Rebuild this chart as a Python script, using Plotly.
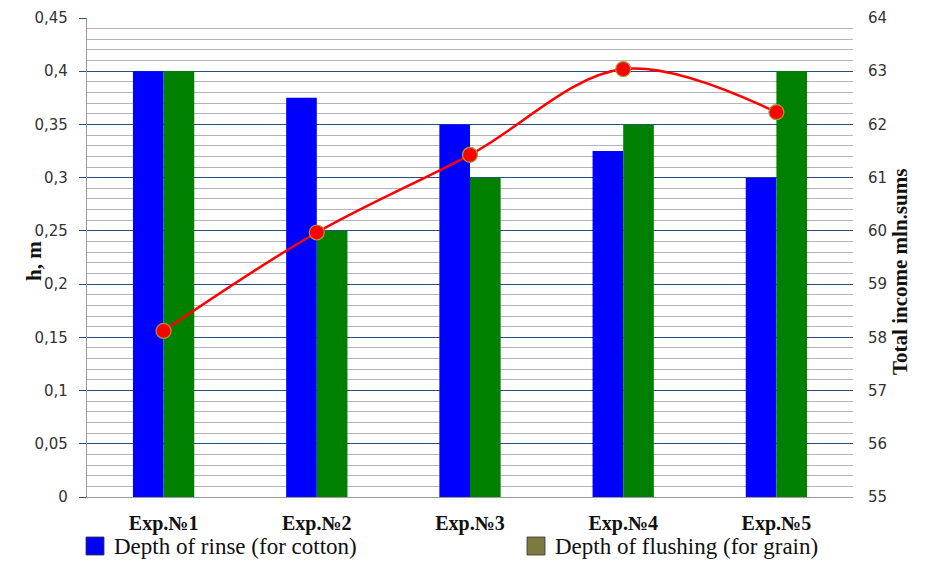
import plotly.graph_objects as go

categories = ["Exp.№1", "Exp.№2", "Exp.№3", "Exp.№4", "Exp.№5"]
rinse_cotton = [0.4, 0.375, 0.35, 0.325, 0.3]
flushing_grain = [0.4, 0.25, 0.3, 0.35, 0.4]
total_income = [58.12, 59.97, 61.43, 63.04, 62.23]

left_ticks = [0, 0.05, 0.1, 0.15, 0.2, 0.25, 0.3, 0.35, 0.4, 0.45]
left_labels = ["0", "0,05", "0,1", "0,15", "0,2", "0,25", "0,3", "0,35", "0,4", "0,45"]
right_ticks = [55, 56, 57, 58, 59, 60, 61, 62, 63, 64]

legend_names = ["Depth of rinse (for cotton)", "Depth of flushing (for grain)"]
legend_colors = ["#0000ff", "#7b7b3f"]

OFF = 8  # browser page margin
W, H = 926 - OFF, 562 - OFF
L, R, T, B = 87 - OFF, 853 - OFF, 18 - OFF, 497 - OFF

def px(x):
    return (x - OFF - L) / (R - L)

def py(y):
    return (B - (y - OFF)) / (B - T)

SERIF = "Liberation Serif, Times New Roman, serif"

fig = go.Figure()
fig.add_trace(go.Bar(x=categories, y=rinse_cotton, marker=dict(color="#0000ff", line=dict(width=0)),
                     name=legend_names[0], showlegend=False))
fig.add_trace(go.Bar(x=categories, y=flushing_grain, marker=dict(color="#008000", line=dict(width=0)),
                     name=legend_names[1], showlegend=False))
fig.add_trace(go.Scatter(x=categories, y=total_income, yaxis="y2", mode="lines+markers",
                         line=dict(color="#ff0000", width=2.5, shape="spline", smoothing=1),
                         marker=dict(color="#ff0000", size=15, line=dict(color="#a89a3c", width=1.2)),
                         showlegend=False))

tick_font = dict(family="DejaVu Sans", size=15, color="#333333")
fig.update_layout(
    width=W, height=H,
    margin=dict(l=L, r=W - R, t=T, b=H - B, autoexpand=False),
    paper_bgcolor="white", plot_bgcolor="white",
    barmode="group", bargap=0.6, bargroupgap=0,
    showlegend=False,
    xaxis=dict(showgrid=False, showline=True, linecolor="#9a9a9a", linewidth=1.2, automargin=False,
               tickfont=dict(family=SERIF, size=20, color="#111111", weight="bold"),
               ticks="", ticklabelstandoff=8),
    yaxis=dict(range=[0, 0.45], tickvals=left_ticks, ticktext=left_labels, automargin=False,
               showgrid=True, gridcolor="#2a4f7f", gridwidth=1.3,
               minor=dict(dtick=0.01, showgrid=True, gridcolor="#b4b4b4", gridwidth=1),
               showline=True, linecolor="#9a9a9a", linewidth=1.2,
               ticks="outside", ticklen=7, tickcolor="#2a4f7f", ticklabelstandoff=8,
               tickfont=tick_font, zeroline=False, ticklabeloverflow="allow"),
    yaxis2=dict(range=[55, 64], tickvals=right_ticks, overlaying="y", side="right", automargin=False,
                showgrid=False, showline=False, ticks="", zeroline=False,
                tickfont=tick_font, ticklabelstandoff=14, ticklabeloverflow="allow"),
)

fig.add_annotation(text="<b>h, m</b>", xref="paper", yref="paper", x=px(20), y=py(261),
                   textangle=-90, showarrow=False, font=dict(family=SERIF, size=21, color="#111111"))
fig.add_annotation(text="<b>Total income mln.sums</b>", xref="paper", yref="paper", x=px(914), y=py(272),
                   textangle=-90, showarrow=False, font=dict(family=SERIF, size=21, color="#111111"))

sq = [(86, 104), (527, 545)]
txt_x = [112, 553]
for i in range(2):
    fig.add_shape(type="rect", xref="paper", yref="paper", x0=px(sq[i][0]), x1=px(sq[i][1]),
                  y0=py(555), y1=py(537), fillcolor=legend_colors[i], line=dict(color="#333333", width=0.8))
    fig.add_annotation(text=legend_names[i], xref="paper", yref="paper", x=px(txt_x[i]), y=py(546),
                       xanchor="left", yanchor="middle", showarrow=False,
                       font=dict(family=SERIF, size=23, color="#111111"))

fig.write_html("out.html")
